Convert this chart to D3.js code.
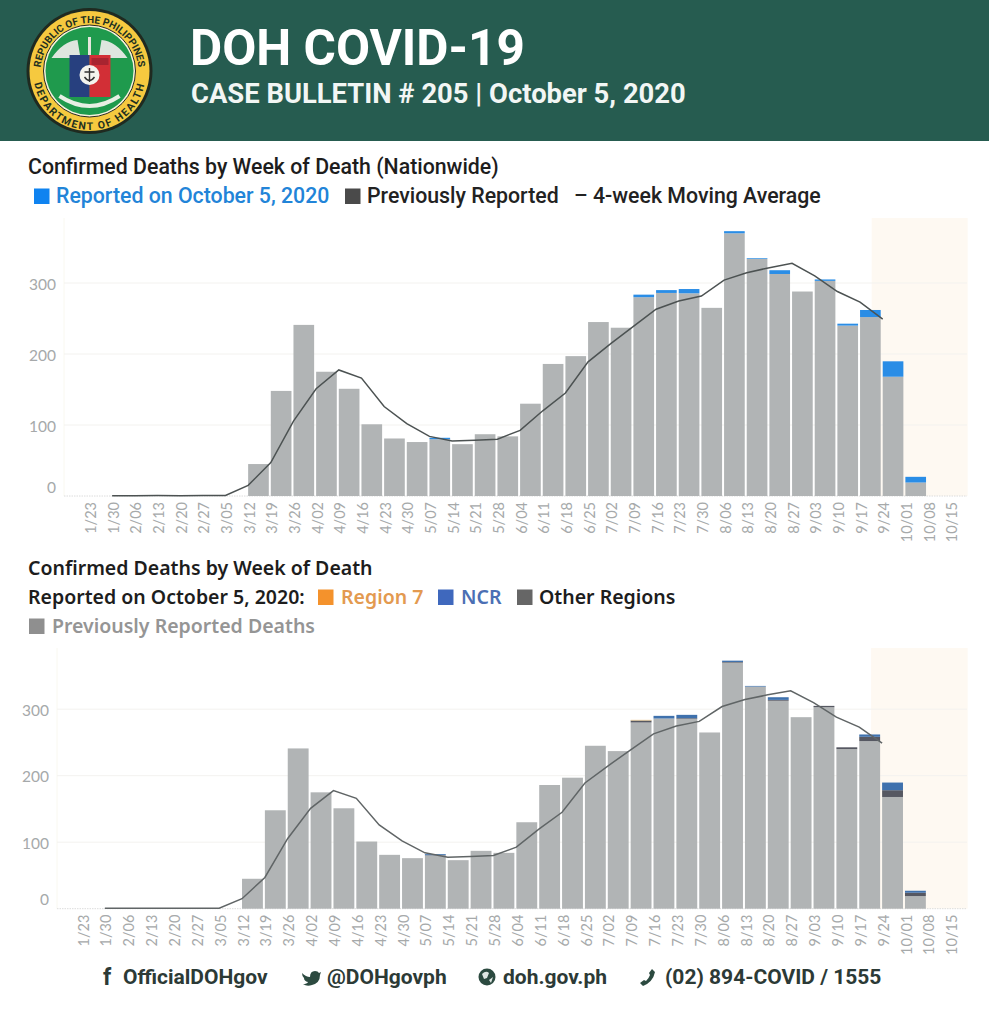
<!DOCTYPE html>
<html lang="en">
<head>
<meta charset="UTF-8">
<title>DOH COVID-19 Case Bulletin 205</title>
<script src="https://d3js.org/d3.v7.min.js"></script>
<style>
  body { margin: 0; background: #fff; }
  svg { display: block; }
  text { font-family: Roboto, sans-serif; }
  .axis text { font-family: Lato, sans-serif; fill: #a6a9aa; }
  .t1 { font-size: 21.3px; font-weight: 500; fill: #1d1d1d; }
  .t2 { font-family: "Noto Sans", sans-serif; font-size: 19.5px; font-weight: 600; fill: #1d1d1d; }
  .foot { font-size: 21px; font-weight: 700; fill: #2c3a36; }
</style>
</head>
<body>
<div id="chart"></div>
<script>
// values
const weeks = ["1/23","1/30","2/06","2/13","2/20","2/27","3/05","3/12","3/19","3/26","4/02","4/09","4/16","4/23","4/30","5/07","5/14","5/21","5/28","6/04","6/11","6/18","6/25","7/02","7/09","7/16","7/23","7/30","8/06","8/13","8/20","8/27","9/03","9/10","9/17","9/24","10/01","10/08","10/15"];
const yTicks = [0, 100, 200, 300];
const previous = [0,1,0,1,0,1,0,45,148,241,175,151,101,81,76,80,73,87,84,130,186,197,245,237,280,286,285.5,265,370,334,312.7,288,303,240,252,168,19,0,0];
const reported = [0,0,0,0,0,0,0,0,0,0,0,0,0,0,0,2,0,0,0,0,0,0,0,0,3.6,4,6,0,3,1,5.3,0,2,2.7,10,21.7,8,0,0];
const region7 = [0,0,0,0,0,0,0,0,0,0,0,0,0,0,0,0,0,0,0,0,0,0,0,0,1,0,0,0,0,0,0,0,0,0,0,0,0,0,0];
const ncr = [0,0,0,0,0,0,0,0,0,0,0,0,0,0,0,1.5,0,0,0,0,0,0,0,0,0,4,5,0,2,1,4,0,0,0,3.5,11.5,3,0,0];
const otherRegions = [0,0,0,0,0,0,0,0,0,0,0,0,0,0,0,0.5,0,0,0,0,0,0,0,0,3,0,1,0,1,0,1.3,0,2,2.7,6.5,10.2,5,0,0];
const movingAvg = [null,0.5,0.5,0.7,0.5,0.7,0.7,15,47,105.6,151,177.5,166,126,102,84,77.5,78.4,80,92.5,120,145,189,214.5,239,263,274.6,281.7,304,314.5,321.6,327.7,310,288,273,249,null,null,null];
const shadeWeeks = ["9/24", "10/15"];

const W = 989, H = 1024;
const svg = d3.select("#chart").append("svg").attr("width", W).attr("height", H);

// header band
svg.append("rect").attr("width", W).attr("height", 141).attr("fill", "#265c50");
svg.append("text").attr("x", 190).attr("y", 65).attr("fill", "#fff")
  .style("font-size", "49.5px").style("font-weight", 700).text("DOH COVID-19");
svg.append("text").attr("x", 191).attr("y", 103).attr("fill", "#f2f6f4")
  .style("font-size", "27.4px").style("font-weight", 700).text("CASE BULLETIN # 205 | October 5, 2020");

// seal
const logo = svg.append("g").attr("transform", "translate(89.5,71)");
logo.append("circle").attr("r", 63).attr("fill", "#1f2a20");
logo.append("circle").attr("r", 60).attr("fill", "#f6c93f");
logo.append("circle").attr("r", 46).attr("fill", "#f7f3dc").attr("stroke", "#2a2a20").attr("stroke-width", 1);
logo.append("circle").attr("r", 44).attr("fill", "#1f9a4d");
const defs = svg.append("defs");
defs.append("path").attr("id", "arcTop").attr("d", "M -48.5 8 A 49 49 0 1 1 48.5 8");
defs.append("path").attr("id", "arcBot").attr("d", "M -54 -12 A 56 56 0 1 0 54 -12");
logo.append("text").style("font-size", "10px").style("font-weight", 700).attr("fill", "#22301f")
  .append("textPath").attr("href", "#arcTop").attr("startOffset", "50%").attr("text-anchor", "middle").text("REPUBLIC OF THE PHILIPPINES");
logo.append("text").style("font-size", "10.5px").style("font-weight", 700).style("letter-spacing", "1.6px").attr("fill", "#22301f")
  .append("textPath").attr("href", "#arcBot").attr("startOffset", "50%").attr("text-anchor", "middle").text("DEPARTMENT OF HEALTH");
logo.append("path").attr("d", "M-38 -13 Q-26 -30 -12 -31 L-9 -13 Z M38 -13 Q26 -30 12 -31 L9 -13 Z").attr("fill", "#dfe6df");
logo.append("rect").attr("x", -20).attr("y", -16).attr("width", 20).attr("height", 42).attr("fill", "#27407f");
logo.append("rect").attr("x", 0).attr("y", -16).attr("width", 21).attr("height", 42).attr("fill", "#d22f36");
logo.append("rect").attr("x", 2).attr("y", -13).attr("width", 17).attr("height", 7).attr("fill", "#a82430");
logo.append("circle").attr("cy", 4).attr("r", 10).attr("fill", "#f3f3ee");
logo.append("path").attr("d", "M0 -3 V11 M-5 1 H5 M-5 6 Q0 13 5 6").attr("fill", "none").attr("stroke", "#333").attr("stroke-width", 1.4);
logo.append("rect").attr("x", -1.5).attr("y", -34).attr("width", 3).attr("height", 18).attr("fill", "#e6e6dd");
logo.append("path").attr("d", "M-30 25 Q0 45 30 25").attr("fill", "none").attr("stroke", "#e8efe4").attr("stroke-width", 4);

// coloured square + text for the legends
function legendItem(x, y, color, label, textX, textColor, cls) {
  if (color) svg.append("rect").attr("x", x).attr("y", y - 14.5).attr("width", 15.5).attr("height", 15.5).attr("fill", color);
  svg.append("text").attr("class", cls).attr("x", textX).attr("y", y).style("fill", textColor).text(label);
}

svg.append("text").attr("class", "t1").attr("x", 28).attr("y", 174).text("Confirmed Deaths by Week of Death (Nationwide)");
legendItem(34, 203, "#0f83f0", "Reported on October 5, 2020", 56, "#2284d8", "t1");
legendItem(345, 203, "#4a4a4a", "Previously Reported", 367, "#222", "t1");
legendItem(0, 203, null, "\u2013 4-week Moving Average", 574, "#222", "t1");

svg.append("text").attr("class", "t2").attr("x", 28).attr("y", 575).text("Confirmed Deaths by Week of Death");
legendItem(0, 604, null, "Reported on October 5, 2020:", 28, "#1d1d1d", "t2");
legendItem(318, 604, "#f4922c", "Region 7", 341, "#e39a50", "t2");
legendItem(438, 604, "#3f68bd", "NCR", 461, "#4b6fb4", "t2");
legendItem(517, 604, "#666", "Other Regions", 539, "#1d1d1d", "t2");
legendItem(29, 633, "#8f8f8f", "Previously Reported Deaths", 52, "#959595", "t2");

function drawChart(o) {
  const x = d3.scalePoint().domain(weeks).range([o.x0, o.x1]);
  const step = x.step();
  const y = d3.scaleLinear().domain([0, 100]).range([o.base, o.base - o.per100]);
  const g = svg.append("g");

  // shaded recent weeks
  g.append("rect").attr("x", x(shadeWeeks[0]) - 12).attr("y", o.top)
    .attr("width", x(shadeWeeks[1]) + 16 - x(shadeWeeks[0]) + 12).attr("height", o.base - o.top)
    .attr("fill", "#fef9f2");

  g.append("line").attr("x1", o.left).attr("x2", o.left).attr("y1", o.top).attr("y2", o.base).attr("stroke", "#f9f8f0");
  g.selectAll(".grid").data(yTicks.slice(1)).join("line").attr("class", "grid")
    .attr("x1", o.left).attr("x2", 967).attr("y1", y).attr("y2", y).attr("stroke", "#f3f2ef");
  g.append("line").attr("x1", o.left).attr("x2", 967).attr("y1", o.base).attr("y2", o.base)
    .attr("stroke", "#dcdcdc").attr("stroke-dasharray", "1.5 1");

  // stacked bars
  const rows = weeks.map((w, i) => {
    const r = { week: w, previous: previous[i] };
    o.series.forEach(s => { r[s.key] = s.values[i]; });
    return r;
  });
  const keys = ["previous"].concat(o.series.map(s => s.key));
  const colors = ["#b1b4b5"].concat(o.series.map(s => s.color));
  const stack = d3.stack().keys(keys)(rows);
  stack.forEach((layer, k) => {
    g.selectAll(null).data(layer.filter(d => d[1] > d[0])).join("rect")
      .attr("x", d => x(d.data.week) - 1)
      .attr("width", step - 2)
      .attr("y", d => y(d[1]))
      .attr("height", d => y(d[0]) - y(d[1]))
      .attr("fill", colors[k]);
  });

  // moving average
  const line = d3.line().defined(d => d.v !== null).x(d => x(d.w) - 1).y(d => y(d.v));
  g.append("path").datum(weeks.map((w, i) => ({ w: w, v: movingAvg[i] })))
    .attr("d", line).attr("fill", "none").attr("stroke", o.lineColor).attr("stroke-width", 1.5);

  // axes
  const xAxis = g.append("g").attr("class", "axis").attr("transform", "translate(0," + o.base + ")")
    .call(d3.axisBottom(x).tickSize(0));
  xAxis.select(".domain").remove();
  xAxis.selectAll("text").attr("transform", "rotate(-90)").attr("text-anchor", "end")
    .attr("x", -6).attr("y", 0).attr("dy", ".35em").style("font-size", "14.5px");

  const yAxis = g.append("g").attr("class", "axis").attr("transform", "translate(" + o.labelX + ",0)")
    .call(d3.axisLeft(y).tickValues(yTicks).tickSize(0).tickPadding(0));
  yAxis.select(".domain").remove();
  yAxis.selectAll("text").style("font-size", "15.5px")
    .attr("dy", d => d === 0 ? "-0.25em" : ".4em");
}

drawChart({
  x0: 90.5, x1: 951.7, left: 64, labelX: 56, base: 496, per100: 71, top: 218, lineColor: "#4c5252",
  series: [{ key: "reported", values: reported, color: "#2a8de6" }]
});
drawChart({
  x0: 83, x1: 951.7, left: 57, labelX: 49, base: 908.7, per100: 66.5, top: 648, lineColor: "#606566",
  series: [
    { key: "other", values: otherRegions, color: "#565862" },
    { key: "ncr", values: ncr, color: "#3f71ad" },
    { key: "region7", values: region7, color: "#f0c98a" }
  ]
});

// footer
svg.append("text").attr("class", "foot").attr("x", 103).attr("y", 985).style("font-size", "23px").text("f");
svg.append("text").attr("class", "foot").attr("x", 123).attr("y", 984).text("OfficialDOHgov");
svg.append("path").attr("transform", "translate(302,970)")
  .attr("d", "M0 3 Q4 7 8 7 Q8 1 13 1 Q16 1 17 3 L19 2 L18 5 Q18 13 10 15 Q5 17 1 14 Q5 14 6 12 Q2 11 2 8 Q0 6 0 3 Z").attr("fill", "#2c4a40");
svg.append("text").attr("class", "foot").attr("x", 327).attr("y", 984).text("@DOHgovph");
svg.append("circle").attr("cx", 487).attr("cy", 977).attr("r", 8.5).attr("fill", "#2c4a40");
svg.append("path").attr("d", "M482 974 Q486 970 489 973 L487 978 L484 979 Z M489 980 L493 977 L491 983 Z").attr("fill", "#dfe7e3");
svg.append("text").attr("class", "foot").attr("x", 503).attr("y", 984).text("doh.gov.ph");
svg.append("path").attr("d", "M652 969 L655 972 Q653 982 643 986 L640 983 L644 980 L646 981 Q649 978 650 975 L649 973 Z").attr("fill", "#2c4a40");
svg.append("text").attr("class", "foot").attr("x", 665).attr("y", 984).text("(02) 894-COVID / 1555");
</script>
</body>
</html>
